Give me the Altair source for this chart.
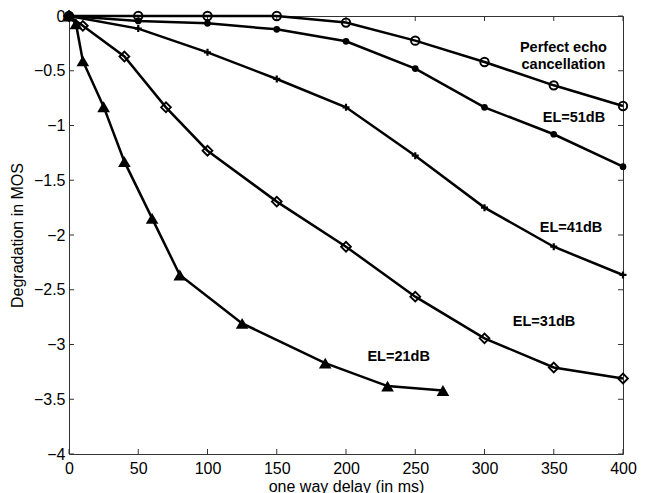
import altair as alt
import pandas as pd

# ---- data ----
perfect_x = [0, 50, 100, 150, 200, 250, 300, 350, 400]
perfect_y = [0, 0, 0, 0, -0.06, -0.225, -0.42, -0.633, -0.822]

el51_x = [0, 50, 100, 150, 200, 250, 300, 350, 400]
el51_y = [0, -0.045, -0.067, -0.122, -0.231, -0.48, -0.834, -1.08, -1.376]

el41_x = [0, 50, 100, 150, 200, 250, 300, 350, 400]
el41_y = [0, -0.115, -0.332, -0.575, -0.834, -1.276, -1.75, -2.107, -2.365]

el31_x = [0, 10, 40, 70, 100, 150, 200, 250, 300, 350, 400]
el31_y = [0, -0.09, -0.37, -0.834, -1.23, -1.695, -2.107, -2.563, -2.944, -3.21, -3.31]

el21_x = [0, 5, 10, 25, 40, 60, 80, 125, 185, 230, 270]
el21_y = [0, -0.07, -0.41, -0.828, -1.33, -1.848, -2.365, -2.807, -3.17, -3.38, -3.42]

label_text = ["Perfect echo\ncancellation", "EL=51dB", "EL=41dB", "EL=31dB", "EL=21dB"]
label_x = [357, 364.6, 362.5, 343, 238]
label_y = [-0.288, -0.93, -1.936, -2.795, -3.114]

x_ticks = [0, 50, 100, 150, 200, 250, 300, 350, 400]
y_ticks = [-4, -3.5, -3, -2.5, -2, -1.5, -1, -0.5, 0]

W, H = 554, 438
FONT = "Liberation Sans"

series = [
    ("perfect", perfect_x, perfect_y, dict(shape="circle", filled=False, size=70, strokeWidth=2)),
    ("el51", el51_x, el51_y, dict(shape="circle", filled=True, size=45)),
    ("el41", el41_x, el41_y, dict(shape="M-1,0L1,0M0,-1L0,1", filled=False, size=49, strokeWidth=2.2)),
    ("el31", el31_x, el31_y, dict(shape="diamond", filled=False, size=95, strokeWidth=1.9)),
    ("el21", el21_x, el21_y, dict(shape="triangle-up", filled=True, size=160)),
]

xs = alt.Scale(domain=[0, 400], nice=False, zero=False)
ys = alt.Scale(domain=[-4, 0], nice=False, zero=False)

x_axis = alt.Axis(values=x_ticks, title="one way delay (in ms)", grid=False, tickSize=0,
                  labelPadding=6, titlePadding=2, domain=False, format="d", labelFlush=False)
y_axis = alt.Axis(values=y_ticks, title="Degradation in MOS", grid=False, tickSize=0,
                  labelPadding=4, titlePadding=8, domain=False, format="~g", labelFlush=False,
                  labelExpr="replace(datum.label, '-', '\u2212')")


def X():
    return alt.X("x:Q", scale=xs, axis=x_axis)


def Y():
    return alt.Y("y:Q", scale=ys, axis=y_axis)


layers = []
for name, sx, sy, style in series:
    df = pd.DataFrame({"x": sx, "y": sy})
    line = alt.Chart(df).mark_line(color="black", strokeWidth=2.5).encode(x=X(), y=Y())
    pts = alt.Chart(df).mark_point(color="black", opacity=1, **style).encode(x=X(), y=Y())
    layers += [line, pts]

lab_df = pd.DataFrame({"t": label_text, "x": label_x, "y": label_y})
labels = alt.Chart(lab_df).mark_text(font=FONT, fontSize=14.5, fontWeight="bold",
                                     align="center", baseline="middle", lineBreak="\n",
                                     lineHeight=17, color="black").encode(
    x=X(), y=Y(), text="t:N")

xt = pd.DataFrame({"x": x_ticks})
yt = pd.DataFrame({"y": y_ticks})
tick_style = dict(color="#333333", strokeWidth=1)
tb = alt.Chart(xt).mark_rule(**tick_style).encode(x=X(), y=alt.value(H), y2=alt.value(H - 5))
tt = alt.Chart(xt).mark_rule(**tick_style).encode(x=X(), y=alt.value(0), y2=alt.value(5))
tl = alt.Chart(yt).mark_rule(**tick_style).encode(y=Y(), x=alt.value(0), x2=alt.value(5))
tr = alt.Chart(yt).mark_rule(**tick_style).encode(y=Y(), x=alt.value(W), x2=alt.value(W - 5))

chart = alt.layer(tb, tt, tl, tr, *layers, labels).properties(
    width=W, height=H,
    autosize=alt.AutoSizeParams(type="none"),
    padding={"left": 61, "top": 8, "right": 14, "bottom": 40},
).configure_view(stroke="#333333", strokeWidth=1).configure_axis(
    labelFont=FONT, titleFont=FONT, labelFontSize=16, titleFontSize=16,
    labelColor="black", titleColor="black", titleFontWeight="normal",
)

chart.save("out.html", embed_options={"renderer": "svg", "actions": False})
